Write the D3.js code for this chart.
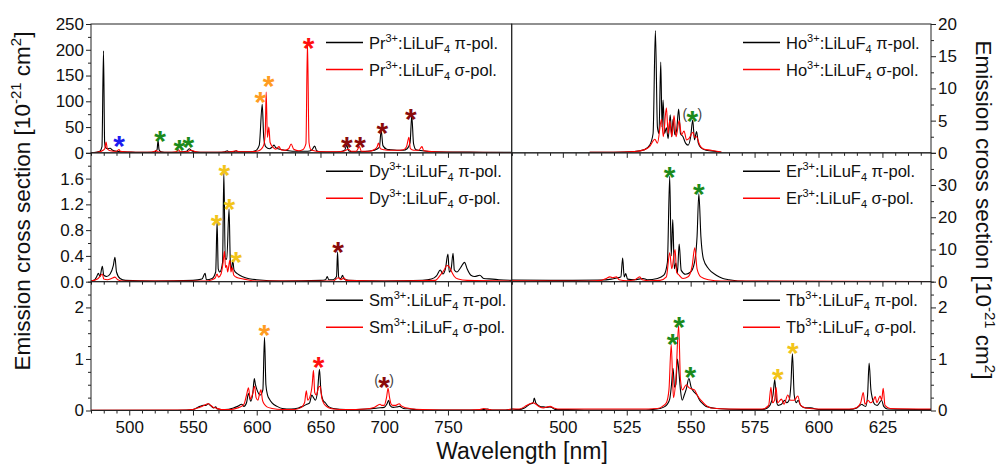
<!DOCTYPE html>
<html><head><meta charset="utf-8">
<script src="https://cdn.jsdelivr.net/npm/d3@7"></script>
<style>
body{margin:0;background:#fff}
text{font-family:"Liberation Sans",Arial,Helvetica,sans-serif}
</style>
</head><body>
<svg id="c" width="1000" height="465"></svg>
<script>
// ---------------- DATA (wavelength nm, cross section) ----------------
const ions = ["Pr","Dy","Sm","Ho","Er","Tb"];
const xTicksLeft = [500,550,600,650,700,750];
const xTicksRight = [500,525,550,575,600,625];
const prTicks = [0,50,100,150,200,250];
const dyTicks = [0.0,0.4,0.8,1.2,1.6];
const smTicks = [0,1,2];
const hoTicks = [0,5,10,15,20];
const erTicks = [0,10,20,30];
const tbTicks = [0,1,2];

const prPi = [[470,0.5],[474,1],[477,3],[478.6,12],[479.8,198],[480.7,20],[481.5,10],[483,8],[485,9],[487,5],[490,3],[495,2],[500,1.5],[505,1],[515,1],[520,2],[521.8,6],[522.6,24],[523.4,6],[525,2],[530,1],[540,1.5],[545,3],[547,8],[549,4],[552,1.5],[560,1],[570,1],[575,2],[577,4],[578,2],[582,2],[584,4],[585,2],[590,2],[595,2],[599,4],[602,15],[604.3,94],[605.5,30],[607,12],[610,8],[612,11],[613.6,15],[615,10],[620,6],[625,4],[630,3],[640,3],[643,5],[645.5,13],[647,4],[650,2],[660,1.5],[665,2],[669,5],[670.6,15],[672,4],[675,2],[680,2],[690,4],[694,7],[696.3,12],[697.6,44],[699,14],[702,7],[705,6],[710,5],[715,5],[718,8],[720.3,20],[721.6,72],[723,18],[725,6],[730,4],[740,2],[760,1.5],[780,1],[800,1]];
const prSigma = [[470,0.3],[475,1],[479.5,5],[480.8,8],[481.8,21],[482.8,8],[485,4],[490,3],[492,6.5],[493,3],[500,1.5],[510,1],[518,1.5],[520,3],[521.2,5],[522,2],[530,1],[537,2],[538.6,6],[540,2],[545,2],[548.5,5],[551,3],[555,1],[565,1],[575,1.5],[580,2],[584,4],[586,2],[595,2],[600,3],[603,6],[605.5,15],[606.7,40],[607.4,118],[608.4,30],[609.5,50],[610.5,20],[613,10],[615,7],[617.5,12],[619,6],[622,5],[625,8],[627,17],[629,7],[633,4],[636,6],[638.6,18],[639.8,215],[641,20],[642.5,6],[645,4],[650,2],[660,2],[668,3],[672,7],[674,3],[678,3],[680.6,12],[682,3],[688,3],[692,6],[694.5,12],[695.5,19],[697,8],[700,6],[705,5],[710,5],[715,6],[717.5,12],[719.4,30],[720.5,8],[723,5],[727,5],[729.6,12],[731,4],[740,2],[760,1],[800,0.5]];

const dyPi = [[470,0.01],[473,0.03],[474.5,0.08],[475.8,0.13],[477,0.08],[478.9,0.24],[480,0.1],[482.3,0.08],[485,0.12],[487.5,0.25],[488.8,0.38],[490,0.15],[492.8,0.05],[497,0.02],[520,0.01],[550,0.02],[557,0.04],[559.5,0.13],[560.5,0.03],[565,0.05],[567.8,0.15],[568.9,0.93],[569.8,0.2],[571,0.15],[573.2,0.3],[574.2,1.7],[575.3,0.35],[576.5,0.35],[578.3,1.13],[579.3,0.3],[580.2,0.2],[581.2,0.33],[582.2,0.18],[585,0.12],[590,0.07],[600,0.03],[620,0.01],[650,0.02],[654,0.03],[655.3,0.08],[656.5,0.03],[660,0.03],[662.6,0.08],[663.4,0.46],[664.3,0.06],[666,0.05],[667.3,0.1],[668.5,0.04],[672,0.02],[700,0.01],[730,0.02],[737,0.04],[741,0.09],[744,0.18],[746,0.12],[748,0.2],[750,0.43],[751,0.15],[752.5,0.2],[754,0.44],[755,0.18],[757,0.15],[760,0.22],[763,0.3],[765,0.2],[768,0.1],[771,0.08],[775,0.1],[778,0.05],[785,0.04],[790,0.03],[800,0.02]];
const dySigma = [[470,0.01],[475,0.04],[477,0.08],[478.9,0.12],[480,0.04],[483,0.03],[486,0.05],[488.8,0.07],[491,0.03],[495,0.01],[560,0.01],[565,0.03],[567.5,0.06],[568.9,0.12],[570,0.07],[572,0.12],[573.5,0.28],[574.7,0.47],[575.5,0.22],[576.4,0.25],[577.2,0.15],[578.9,0.33],[579.8,0.15],[580.7,0.22],[582,0.1],[585,0.06],[590,0.04],[600,0.01],[660,0.01],[664,0.06],[666,0.03],[668.5,0.06],[670,0.02],[700,0.01],[740,0.02],[744,0.1],[747,0.18],[749,0.25],[751,0.23],[753,0.15],[755,0.08],[758,0.04],[765,0.02],[800,0.01]];

const smPi = [[470,0.005],[530,0.005],[545,0.01],[550,0.02],[555.5,0.08],[558,0.1],[560,0.1],[562,0.13],[564,0.09],[566,0.05],[567.8,0.07],[569,0.03],[575,0.02],[581.7,0.05],[585,0.08],[588.2,0.12],[590,0.08],[592,0.15],[593.5,0.33],[595.3,0.18],[597,0.35],[598.1,0.62],[599,0.5],[600.2,0.4],[602.8,0.3],[604.8,0.4],[606.1,1.42],[607.2,0.5],[608.5,0.3],[610,0.22],[612,0.15],[616,0.08],[620,0.04],[627,0.03],[632.7,0.05],[636,0.08],[639.2,0.12],[641.5,0.15],[643.2,0.3],[644.5,0.25],[646,0.2],[647.8,0.4],[649.2,0.8],[650.3,0.4],[652,0.2],[653.8,0.15],[656,0.08],[660,0.04],[670,0.02],[686.6,0.03],[695,0.05],[700,0.06],[702,0.12],[703.5,0.2],[704.5,0.1],[707,0.06],[710,0.07],[712,0.08],[715,0.04],[720,0.03],[730,0.01],[770,0.01],[778,0.02],[781,0.03],[784,0.01],[795,0.01],[800,0.02]];
const smSigma = [[470,0.005],[545,0.01],[550,0.02],[555,0.06],[558,0.09],[562,0.13],[564,0.1],[566,0.06],[568,0.05],[572,0.02],[580,0.02],[585,0.05],[588,0.08],[590,0.12],[592,0.3],[593.5,0.44],[595,0.22],[596.5,0.3],[598.3,0.47],[599.5,0.25],[601,0.2],[602,0.3],[603.3,0.4],[604.5,0.2],[606,0.12],[608,0.07],[612,0.04],[620,0.02],[630,0.02],[635,0.06],[637.5,0.15],[638.9,0.38],[640,0.2],[641.5,0.25],[643.5,0.5],[644.5,0.78],[645.5,0.35],[646.8,0.3],[648.5,0.45],[649.8,0.47],[651,0.25],[653,0.12],[656,0.06],[660,0.03],[670,0.02],[685,0.03],[692,0.06],[696.8,0.12],[698,0.1],[700,0.1],[701.8,0.25],[703,0.43],[704.2,0.25],[705.5,0.12],[707,0.1],[709,0.1],[711.8,0.13],[713,0.1],[715,0.07],[720,0.04],[730,0.02],[760,0.01],[775,0.02],[778,0.04],[780,0.03],[785,0.01],[797,0.01],[799,0.03],[800,0.02]];

const hoPi = [[510.5,0.1],[520,0.1],[528,0.2],[532,0.5],[534,1.2],[535.3,3],[536.2,19],[537,4],[537.6,3],[538.3,14.1],[538.8,4],[539.2,8.2],[539.8,3],[540.5,3.9],[541.2,2.2],[542,5.9],[542.6,2.5],[543.1,5.2],[543.8,2.8],[544.5,3.5],[545.3,6.8],[546,3],[547,2.5],[548,1.5],[549,1.2],[550,2.5],[550.8,5.1],[551.5,2],[552.3,3.3],[553,1.5],[554,0.8],[556,0.4],[558,0.3],[562,0.1]];
const hoSigma = [[510.5,0.1],[520,0.1],[528,0.2],[532,0.5],[534,1],[536,2.1],[537,1.5],[538.6,5.2],[539.3,2.5],[540.5,7],[541.2,3],[541.8,5],[542.6,2.5],[543.5,5.8],[544.3,2.5],[545.5,5],[546.4,2.8],[547.4,3.4],[548.4,2],[549.3,2.2],[550.9,3.2],[551.6,2.4],[552.3,2.5],[553.5,1.2],[555,0.6],[558,0.4],[562,0.1]];

const erPi = [[480,0.5],[500,0.4],[515,0.5],[519,0.8],[521.6,1.2],[522.7,1.5],[523.4,7.3],[524,1.5],[524.6,2.5],[525.3,0.8],[528,0.6],[531.4,1],[533,0.6],[537,1],[539.5,2],[540.9,6],[541.8,32.7],[542.4,8],[543,19.3],[543.6,4],[544.2,5.8],[544.8,2.5],[545.5,11.7],[546.3,3.5],[548,2.3],[550,3],[551.5,6],[552.5,14],[553.2,27.3],[554,14],[555,7],[557,4],[560,2],[562.6,1],[565,0.6],[571.7,0.1],[644,0.05]];
const erSigma = [[480,0.3],[510,0.2],[515,0.4],[517,1],[518.4,1.5],[519.5,1.2],[521,1.5],[522,0.6],[525,0.3],[528,0.5],[530.1,1.5],[531,0.6],[534,0.3],[538,0.4],[540.5,1.5],[541.8,9],[542.6,4],[543.9,10],[544.5,3],[545.5,2],[547,1],[549,1.5],[550.6,5],[551.6,10.5],[552.5,4],[554,1.5],[557,0.6],[562,0.2],[644,0.05]];

const tbPi = [[480,0.03],[483,0.02],[485,0.05],[487,0.12],[488.4,0.15],[488.8,0.24],[489.5,0.14],[490.4,0.1],[491.5,0.07],[492.4,0.07],[493.5,0.06],[495,0.07],[496,0.05],[497,0.02],[502,0.02],[510,0.01],[530,0.01],[535,0.02],[538,0.04],[540,0.08],[540.8,0.12],[541.8,0.22],[542.5,0.5],[543.1,0.82],[543.7,0.45],[544.2,0.5],[544.8,1.0],[545.4,0.75],[546,0.4],[546.7,0.2],[547.5,0.3],[548.3,0.42],[549.3,0.62],[550.2,0.45],[551.5,0.35],[552.5,0.3],[553.5,0.2],[555,0.12],[556,0.08],[560,0.04],[570,0.02],[578,0.02],[580,0.05],[581,0.1],[582.2,0.3],[582.9,0.6],[583.5,0.2],[584.2,0.1],[585.5,0.12],[586.8,0.2],[587.5,0.15],[588.5,0.2],[589.2,0.5],[589.8,1.1],[590.5,0.3],[591.3,0.15],[592,0.2],[593,0.1],[595,0.05],[597,0.05],[600,0.02],[612,0.02],[615,0.05],[617,0.12],[617.5,0.1],[618.5,0.08],[619.2,0.3],[619.8,0.92],[620.5,0.4],[621,0.25],[622,0.12],[623,0.1],[624.7,0.2],[625.5,0.08],[627,0.03],[644,0.02]];
const tbSigma = [[480,0.03],[483,0.03],[486,0.1],[488.4,0.15],[489.5,0.12],[491,0.07],[492.4,0.05],[494,0.07],[495,0.08],[496.5,0.05],[498,0.03],[510,0.03],[530,0.03],[537,0.04],[539,0.08],[540.5,0.15],[541.5,0.4],[542.4,1.28],[543,0.5],[543.3,0.25],[544.2,0.6],[545.3,1.65],[546,0.6],[546.8,0.4],[548.3,0.5],[549.2,0.45],[550.2,0.42],[551.5,0.4],[552.5,0.3],[554,0.2],[556,0.1],[558,0.05],[565,0.03],[578,0.03],[580.5,0.1],[581.4,0.45],[582,0.15],[582.8,0.2],[583.4,0.45],[584,0.15],[585.5,0.22],[586.5,0.12],[588,0.3],[589,0.2],[590.5,0.2],[591.9,0.28],[593,0.1],[595,0.05],[600,0.03],[612,0.03],[615,0.06],[616.5,0.15],[617.5,0.35],[618.2,0.12],[619.4,0.2],[620.3,0.15],[621.5,0.2],[622.2,0.27],[622.8,0.15],[624.1,0.28],[624.7,0.2],[625.3,0.43],[626,0.1],[628,0.04],[644,0.03]];

// asterisk markers: [wavelength, value, transition colour key, in parentheses]
const prStars = [[492,28,"blue"],[524.2,38,"green"],[539.3,19.5,"green"],[546.4,26,"green"],[602.8,113,"orange"],[609.3,144,"orange"],[640.6,219,"red"],[670.7,26,"maroon"],[681.1,26,"maroon"],[698.6,54,"maroon"],[720.9,80,"maroon"]];
const dyStars = [[568.6,1.0,"gold"],[574.6,1.77,"gold"],[578.5,1.25,"gold"],[583.8,0.43,"gold"],[663.9,0.57,"maroon"]];
const smStars = [[606,1.62,"orange"],[648.6,0.99,"red"],[699.9,0.6,"maroon",1]];
const hoStars = [[550.7,6.1,"green",1]];
const erStars = [[541.8,34.8,"green"],[553.2,29.6,"green"]];
const tbStars = [[542.9,1.43,"green"],[545.5,1.77,"green"],[549.9,0.79,"green"],[584.1,0.75,"gold"],[590,1.27,"gold"]];

// ---------------- LAYOUT ----------------
const L = 91, M = 511.7, R = 931, T = 24, B = 410.5;
const PH = (B - T) / 3;
const starColor = {blue:"#1c1cf0", green:"#1b8a1b", orange:"#ff9c22", red:"#ff1010", maroon:"#8a0b0b", gold:"#f2c41a"};
const svg = d3.select("#c");

const panels = [
  {ion:ions[0], col:0, row:0, xd:[470,800], xt:xTicksLeft, xm:10, yd:[0,250], yt:prTicks, ym:25, fmt:d3.format("d"), pi:prPi, sg:prSigma, st:prStars},
  {ion:ions[1], col:0, row:1, xd:[470,800], xt:xTicksLeft, xm:10, yd:[0,2], yt:dyTicks, ym:0.2, fmt:d3.format(".1f"), pi:dyPi, sg:dySigma, st:dyStars},
  {ion:ions[2], col:0, row:2, xd:[470,800], xt:xTicksLeft, xm:10, yd:[0,2.5], yt:smTicks, ym:0.25, fmt:d3.format("d"), pi:smPi, sg:smSigma, st:smStars},
  {ion:ions[3], col:1, row:0, xd:[480,644], xt:xTicksRight, xm:5, yd:[0,20], yt:hoTicks, ym:2.5, fmt:d3.format("d"), pi:hoPi, sg:hoSigma, st:hoStars},
  {ion:ions[4], col:1, row:1, xd:[480,644], xt:xTicksRight, xm:5, yd:[0,40], yt:erTicks, ym:5, fmt:d3.format("d"), pi:erPi, sg:erSigma, st:erStars},
  {ion:ions[5], col:1, row:2, xd:[480,644], xt:xTicksRight, xm:5, yd:[0,2.5], yt:tbTicks, ym:0.25, fmt:d3.format("d"), pi:tbPi, sg:tbSigma, st:tbStars}
];

const defs = svg.append("defs");

function legendLabel(g, x, y, ion, pol) {
  const t = g.append("text").attr("x", x).attr("y", y).attr("font-size", 16.5).attr("fill", "#111");
  t.append("tspan").text(ion);
  t.append("tspan").attr("font-size", 11).attr("dy", -7).text("3+");
  t.append("tspan").attr("dy", 7).text(":LiLuF");
  t.append("tspan").attr("font-size", 11).attr("dy", 4).text("4");
  t.append("tspan").attr("dy", -4).text(" " + pol + "-pol.");
}

panels.forEach((p, i) => {
  const x0 = p.col === 0 ? L : M, x1 = p.col === 0 ? M : R;
  const y0 = T + p.row * PH, y1 = y0 + PH;
  const x = d3.scaleLinear().domain(p.xd).range([x0, x1]);
  const y = d3.scaleLinear().domain(p.yd).range([y1, y0]);
  const g = svg.append("g");

  defs.append("clipPath").attr("id", "clip" + i).append("rect")
    .attr("x", x0).attr("y", y0).attr("width", x1 - x0).attr("height", y1 - y0);

  const line = d3.line().x(d => x(d[0])).y(d => y(d[1])).curve(d3.curveMonotoneX);
  const lg = g.append("g").attr("clip-path", "url(#clip" + i + ")");
  lg.append("path").datum(p.pi).attr("d", line).attr("fill", "none").attr("stroke", "#000").attr("stroke-width", 1.1);
  lg.append("path").datum(p.sg).attr("d", line).attr("fill", "none").attr("stroke", "#ff0000").attr("stroke-width", 1.1);

  // x axis (ticks outward)
  const minorX = d3.range(p.xd[0], p.xd[1] + 0.001, p.xm).filter(v => !p.xt.includes(v));
  const axX = g.append("g").attr("transform", `translate(0,${y1})`);
  axX.call(d3.axisBottom(x).tickValues(p.xt).tickSize(5).tickPadding(5)
      .tickFormat(p.row === 2 ? d3.format("d") : () => ""));
  axX.append("g").call(d3.axisBottom(x).tickValues(minorX).tickSize(3).tickFormat(() => ""));

  // y axis on outer side
  const yMajor = d3.range(p.yd[0], p.yd[1] + 1e-9, p.yt[1] - p.yt[0]);
  const yMinor = d3.range(p.yd[0], p.yd[1] + 1e-9, p.ym).filter(v => !yMajor.some(m => Math.abs(m - v) < 1e-9));
  const axisY = p.col === 0 ? d3.axisLeft : d3.axisRight;
  const axY = g.append("g").attr("transform", `translate(${p.col === 0 ? x0 : x1},0)`);
  axY.call(axisY(y).tickValues(yMajor).tickSize(5).tickPadding(2)
      .tickFormat(v => p.yt.some(t => Math.abs(t - v) < 1e-9) ? p.fmt(v) : ""));
  axY.append("g").call(axisY(y).tickValues(yMinor).tickSize(3).tickFormat(() => ""));

  g.selectAll(".domain").remove();
  g.selectAll(".tick line").attr("stroke", "#222");
  g.selectAll(".tick text").attr("font-size", 17).attr("fill", "#111")
    .attr("font-family", "'Liberation Sans',Arial,sans-serif");

  // frame
  g.append("rect").attr("x", x0).attr("y", y0).attr("width", x1 - x0).attr("height", y1 - y0)
    .attr("fill", "none").attr("stroke", "#222").attr("stroke-width", 1);

  // legend
  const lx = p.col === 0 ? 326 : 743;
  [["π", "#000", 18.5], ["σ", "#ff0000", 45.5]].forEach(([pol, c, dy]) => {
    g.append("line").attr("x1", lx).attr("x2", lx + 37).attr("y1", y0 + dy).attr("y2", y0 + dy)
      .attr("stroke", c).attr("stroke-width", 1.5);
    legendLabel(g, lx + 43, y0 + dy + 6, p.ion, pol);
  });

  // asterisks
  const fs = 30;
  p.st.forEach(s => {
    const cx = x(s[0]), cy = y(s[1]);
    g.append("text").attr("x", cx).attr("y", cy + 0.585 * fs).attr("text-anchor", "middle")
      .attr("font-size", fs).attr("font-weight", "bold").attr("fill", starColor[s[2]]).text("*");
    if (s[3]) {
      g.append("text").attr("x", cx - 7.5).attr("y", cy + 5).attr("text-anchor", "middle")
        .attr("font-size", 14).attr("fill", "#444").text("(");
      g.append("text").attr("x", cx + 7.5).attr("y", cy + 5).attr("text-anchor", "middle")
        .attr("font-size", 14).attr("fill", "#444").text(")");
    }
  });
});

// axis titles
function titleWithUnits(t) {
  t.append("tspan").text("Emission cross section [10");
  t.append("tspan").attr("font-size", 15).attr("dy", -9).text("-21");
  t.append("tspan").attr("dy", 9).text(" cm");
  t.append("tspan").attr("font-size", 15).attr("dy", -9).text("2");
  t.append("tspan").attr("dy", 9).text("]");
}
titleWithUnits(svg.append("text").attr("transform", "translate(30,201) rotate(-90)")
  .attr("text-anchor", "middle").attr("font-size", 22.5).attr("fill", "#111"));
titleWithUnits(svg.append("text").attr("transform", "translate(976,210) rotate(90)")
  .attr("text-anchor", "middle").attr("font-size", 22.5).attr("fill", "#111"));
svg.append("text").attr("x", 522).attr("y", 459).attr("text-anchor", "middle")
  .attr("font-size", 23).attr("fill", "#111").text("Wavelength [nm]");
</script>
</body></html>
